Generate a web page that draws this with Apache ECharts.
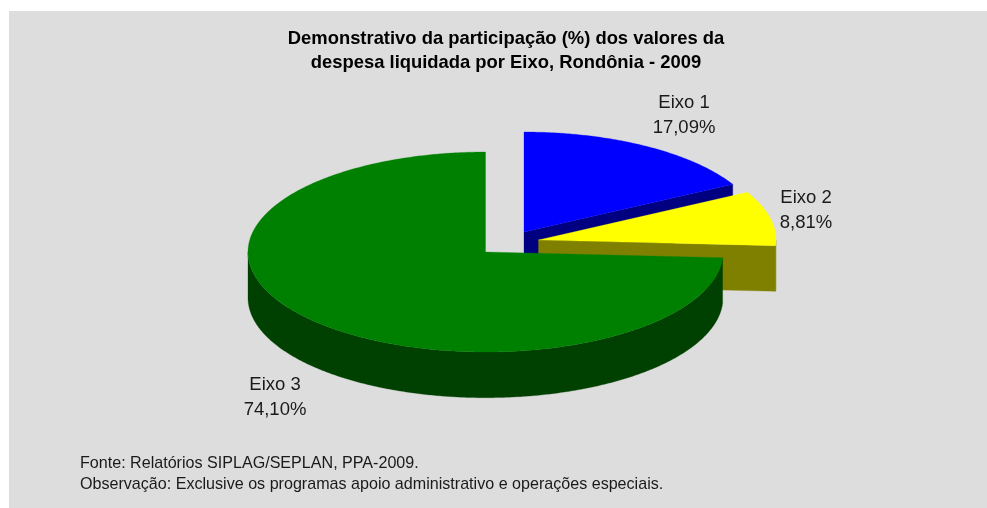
<!DOCTYPE html>
<html>
<head>
<meta charset="utf-8">
<style>html,body{margin:0;padding:0;background:#fff}#c{width:987px;height:508px}</style>
<script src="https://cdn.jsdelivr.net/npm/echarts@6/dist/echarts.min.js"></script>
</head>
<body>
<div id="c"></div>
<script>
const categories = ['Eixo 1', 'Eixo 2', 'Eixo 3'];
const values = [17.09, 8.81, 74.10];
const valueLabels = ['17,09%', '8,81%', '74,10%'];
const titleLines = ['Demonstrativo da participação (%) dos valores da', 'despesa liquidada por Eixo, Rondônia - 2009'];
const footnotes = ['Fonte: Relatórios SIPLAG/SEPLAN, PPA-2009.', 'Observação: Exclusive os programas apoio administrativo e operações especiais.'];
const topColors = ['#0000FF', '#FFFF00', '#008000'];
const sideColors = ['#000080', '#808000', '#004000'];

// Layout of the flattened 3D pie
const centers = [[524, 232], [538.5, 240], [485.5, 252]];
const labelPos = [[684, 115.5], [806, 210], [275, 397]];
const RX = 237.5, RY = 100, DEPTH = 45.7;
const FONT = '"Liberation Sans", Arial, sans-serif';

const total = values.reduce((a, b) => a + b, 0);

function pt(c, deg, dy) {
  const t = deg * Math.PI / 180;
  return [c[0] + RX * Math.sin(t), c[1] - RY * Math.cos(t) + (dy || 0)];
}
function arc(c, a0, a1, dy) {
  const n = Math.max(2, Math.ceil(Math.abs(a1 - a0) * 2));
  const out = [];
  for (let i = 0; i <= n; i++) out.push(pt(c, a0 + (a1 - a0) * i / n, dy));
  return out;
}

function renderItem(params, api) {
  const i = params.dataIndex;
  let before = 0;
  for (let k = 0; k < i; k++) before += values[k];
  const a0 = before / total * 360;
  const a1 = a0 + api.value(0) / total * 360;
  const c = centers[i];
  const children = [];
  const poly = (points, fill) => children.push({
    type: 'polygon',
    shape: { points },
    style: { fill, stroke: fill, lineWidth: 0.3 }
  });
  // visible radial cut face
  if (a1 < 180) {
    const e = pt(c, a1);
    poly([c, e, [e[0], e[1] + DEPTH], [c[0], c[1] + DEPTH]], sideColors[i]);
  }
  // front outer wall
  const w0 = Math.max(a0, 90), w1 = Math.min(a1, 270);
  if (w1 > w0) {
    poly(arc(c, w0, w1, 0).concat(arc(c, w1, w0, DEPTH)), sideColors[i]);
  }
  // top face
  poly([c].concat(arc(c, a0, a1, 0)), topColors[i]);
  // label
  children.push({
    type: 'text',
    z2: 10,
    style: {
      x: labelPos[i][0], y: labelPos[i][1],
      text: categories[i] + '\n' + valueLabels[i],
      fill: '#1a1a1a', font: '18.5px ' + FONT,
      lineHeight: 25, align: 'center', verticalAlign: 'middle'
    }
  });
  return { type: 'group', children };
}

const chart = echarts.init(document.getElementById('c'), null, { renderer: 'canvas' });
chart.setOption({
  animation: false,
  backgroundColor: '#FFFFFF',
  title: {
    text: titleLines.join('\n'),
    left: 501, top: 22, textAlign: 'center',
    textStyle: { fontFamily: FONT, fontSize: 18.4, fontWeight: 'bold', color: '#000', lineHeight: 24 }
  },
  graphic: [
    { type: 'rect', z: -1, silent: true, shape: { x: 9, y: 11, width: 978, height: 497 }, style: { fill: '#DDDDDD' } },
    { type: 'text', z: 5, silent: true, style: { x: 80, y: 463.5, text: footnotes[0], fill: '#1a1a1a', font: '16.1px ' + FONT, verticalAlign: 'middle' } },
    { type: 'text', z: 5, silent: true, style: { x: 80, y: 484.5, text: footnotes[1], fill: '#1a1a1a', font: '16.1px ' + FONT, verticalAlign: 'middle' } }
  ],
  series: [{
    type: 'custom',
    coordinateSystem: 'none',
    silent: true,
    renderItem,
    data: values.map(v => [v])
  }]
});
</script>
</body>
</html>
